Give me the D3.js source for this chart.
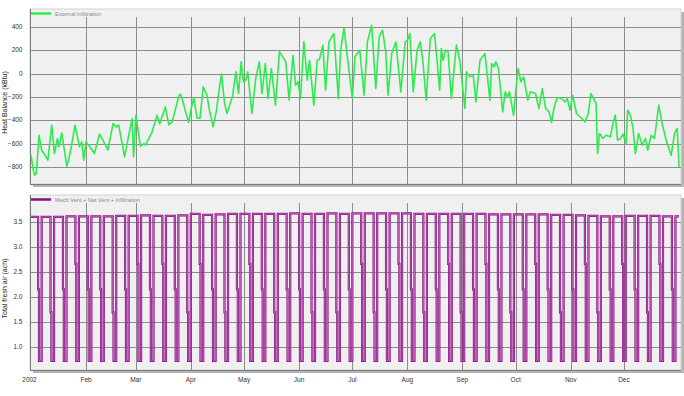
<!DOCTYPE html>
<html>
<head>
<meta charset="utf-8">
<style>
  body { margin: 0; background: #fff; }
  text { font-family: Arial, "Liberation Sans", sans-serif; }
</style>
</head>
<body>
<svg id="chart" width="684" height="396"></svg>
<script src="https://d3js.org/d3.v7.min.js"></script>
<script>

// ---- data ----
// top panel: External infiltration heat balance, (day of year, kBtu)
const infDays = [0,1.2,2,3,4.5,6,8,9.5,11.7,13.2,14.9,15.8,17.3,20.2,22,24.8,27.3,28.6,29.7,31,33.8,35.7,38.6,40.5,43.3,46.2,48,49.4,52.7,56.9,57.8,59.1,61.6,63.6,64.6,68.2,71,72.5,73.8,75.7,77.6,79.5,81,83.3,84.2,85.6,87.3,88.8,90.2,91.7,93.5,95.2,97,99.1,100.5,102.6,104.5,105.6,107.3,109,110.3,111.9,113.5,115.4,116.9,118.4,119.7,121,122.1,124.4,126.7,128.6,130.1,132,133.5,135.4,137.7,139.9,141.8,143.5,145.4,147.6,149,150.5,151.8,153.7,155.6,156.9,159.3,161.2,162.5,164.4,165.9,167.8,170.6,173.1,174.4,176.3,179.1,181,182.5,185.2,187.6,189.5,191.9,194.2,196.1,198,199.8,201.1,203.2,205.5,208.3,210.8,212.1,213.4,215.3,217.5,219.2,220.7,222.6,224.9,227.3,230.2,231.1,232.1,233.6,234.9,236.8,239.6,241.5,244.4,245.3,247.2,249.1,250.6,252.9,255.7,258.5,259.5,260.8,261.8,263.3,265.7,267.1,268.4,269.5,271.8,274.3,276,277.5,279.8,281.3,284.2,286.1,288,289.9,291.8,293.2,294.5,296.4,298.9,300.8,302.1,303.6,305.1,307.3,309.2,312.1,313.9,315.4,316.8,318.3,319.1,320.2,322.1,324,326.3,327.8,329.1,330.4,332,333.5,335.2,336.1,337.6,339.1,340.4,342.3,344.2,346.1,347.4,349.3,351.2,353.6,355.5,358,360.6,362.5,364,365];
const infValues = [-700,-820,-870,-860,-529,-657,-700,-743,-443,-686,-557,-628,-509,-795,-686,-443,-628,-586,-743,-586,-643,-686,-520,-571,-657,-429,-457,-443,-715,-386,-715,-357,-623,-600,-614,-500,-357,-433,-371,-286,-440,-414,-329,-190,-176,-240,-343,-420,-300,-205,-380,-385,-114,-186,-314,-457,-314,-180,-3,-250,-343,-271,-200,14,-171,100,-71,-57,14,-343,-29,100,-171,86,-214,43,-271,186,143,100,-229,157,-100,-71,-214,271,-57,114,-271,114,121,243,-143,271,343,-214,200,386,29,-214,143,200,-186,271,414,-129,314,371,186,-186,171,271,-157,271,286,343,-157,200,271,114,-229,300,343,-143,214,114,200,186,-214,243,114,-300,14,-29,-14,-243,114,171,-229,86,57,100,43,-329,-157,-200,-157,-357,43,-71,-29,-229,-157,-171,-300,-129,-300,-329,-420,-300,-206,-214,-243,-214,-314,-186,-343,-371,-414,-343,-171,-214,-257,-686,-514,-557,-529,-543,-428,-357,-571,-557,-520,-600,-314,-357,-471,-686,-514,-614,-557,-657,-529,-557,-271,-428,-586,-700,-514,-471,-800];

// bottom panel: total fresh air (ach), weekday level per block (Jan 1-4, then after each weekend)
const airHigh = [3.60,3.60,3.60,3.61,3.61,3.61,3.61,3.62,3.62,3.63,3.62,3.62,3.63,3.66,3.64,3.65,3.66,3.66,3.66,3.66,3.66,3.67,3.66,3.66,3.67,3.66,3.67,
                 3.67,3.67,3.67,3.67,3.66,3.66,3.66,3.66,3.66,3.66,3.65,3.65,3.65,3.65,3.65,3.64,3.64,3.63,3.62,3.61,3.61,3.62,3.62,3.62,3.61,3.61];
// step level on each weekend's way down
const airNotch = [2.15,1.69,2.15,2.66,2.15,2.15,1.69,2.15,2.66,2.15,2.66,2.15,1.69,2.66,2.15,1.69,2.15,2.66,2.15,1.69,2.15,2.15,1.69,2.15,1.69,2.15,
                  2.66,1.69,2.15,2.66,2.15,1.69,2.15,2.66,1.69,2.15,2.66,2.15,1.69,2.15,2.66,2.15,1.69,2.15,2.66,1.69,2.15,2.66,2.15,1.69,2.66,2.15];
const airLow = 0.72;
const firstSaturday = 4;   // 5 Jan 2002

const heatTicks = [-800,-600,-400,-200,0,200,400];
const airTicks = [1.0,1.5,2.0,2.5,3.0,3.5];

// ---- layout ----
const svg = d3.select("#chart");
const left = 30, right = 681;
const DAY = 864e5, t0 = Date.UTC(2002,0,1);
const toDate = d => new Date(t0 + d*DAY);

const x = d3.scaleUtc()
    .domain([toDate(0), toDate(365)])
    .range([31, 679]);
const months = d3.utcMonth.range(toDate(0), toDate(365));

const panels = [
    {top: 9, bottom: 184, domain: [-947, 553], ticks: heatTicks, fmt: d3.format("d"),
     title: "Heat Balance (kBtu)", legend: "External infiltration", color: "#2fea4f"},
    {top: 195, bottom: 370, domain: [0.537, 4.037], ticks: airTicks, fmt: d3.format(".1f"),
     title: "Total fresh air (ach)", legend: "Mech Vent + Nat Vent + Infiltration", color: "#85107f"}
];

panels.forEach(p => {
    p.y = d3.scaleLinear().domain(p.domain).range([p.bottom, p.top]);
    let g = svg.append("g");
    // shadow + frame
    g.append("rect").attr("x", left + 3).attr("y", p.top + 3)
        .attr("width", right - left).attr("height", p.bottom - p.top)
        .attr("fill", "#b4b4b4");
    g.append("rect").attr("x", left).attr("y", p.top)
        .attr("width", right - left).attr("height", p.bottom - p.top)
        .attr("fill", "#f0f0f0").attr("stroke", "#d2d2d2");
    // grid
    g.selectAll(".hg").data(p.ticks).enter().append("line")
        .attr("x1", left).attr("x2", right)
        .attr("y1", d => Math.round(p.y(d)) + 0.5).attr("y2", d => Math.round(p.y(d)) + 0.5)
        .attr("stroke", "#8c8c8c").attr("stroke-width", 1);
    g.selectAll(".vg").data(months.slice(1)).enter().append("line")
        .attr("x1", d => Math.round(x(d)) + 0.5).attr("x2", d => Math.round(x(d)) + 0.5)
        .attr("y1", p.top + 8).attr("y2", p.bottom)
        .attr("stroke", "#8c8c8c").attr("stroke-width", 1);
    // axis lines
    g.append("line").attr("x1", left + 0.5).attr("x2", left + 0.5)
        .attr("y1", p.top).attr("y2", p.bottom).attr("stroke", "#7a7a7a");
    g.append("line").attr("x1", left).attr("x2", right)
        .attr("y1", p.bottom + 0.5).attr("y2", p.bottom + 0.5).attr("stroke", "#7a7a7a");
    // tick labels
    g.selectAll(".yl").data(p.ticks).enter().append("text")
        .attr("x", 22.5).attr("y", d => p.y(d)).attr("dy", "0.35em")
        .attr("text-anchor", "end").attr("font-size", 6.5).attr("fill", "#333")
        .text(p.fmt);
    // title
    g.append("text")
        .attr("transform", `translate(7,${(p.top + p.bottom) / 2 + 6}) rotate(-90)`)
        .attr("text-anchor", "middle").attr("font-size", 7).attr("fill", "#222")
        .text(p.title);
    // legend
    g.append("line").attr("x1", 31).attr("x2", 51)
        .attr("y1", p.top + 4.5).attr("y2", p.top + 4.5)
        .attr("stroke", p.color).attr("stroke-width", 2.5);
    g.append("text").attr("x", 55).attr("y", p.top + 6.5)
        .attr("font-size", 5.6).attr("fill", "#8a8a8a").text(p.legend);
});

// top line
const infData = infDays.map((d, i) => [d, infValues[i]]);
const topY = panels[0].y;
svg.append("path")
    .datum(infData)
    .attr("fill", "none")
    .attr("stroke", "#2fea4f")
    .attr("stroke-width", 1.6)
    .attr("stroke-linejoin", "round")
    .attr("d", d3.line().x(d => x(toDate(d[0]))).y(d => topY(d[1])));

// bottom line: weekday level, weekend dip with a step on the way down
let air = [[0, airHigh[0]]];
airNotch.forEach((n, k) => {
    const sat = firstSaturday + 7 * k;
    air.push([sat, airHigh[k]], [sat, n], [sat + 0.5, n], [sat + 0.5, airLow],
             [sat + 2, airLow], [sat + 2, airHigh[k + 1]]);
});
air.push([365, airHigh[airHigh.length - 1]]);

const botY = panels[1].y;
const airLine = d3.line().x(d => x(toDate(d[0]))).y(d => botY(d[1]));
svg.append("path").datum(air).attr("fill", "none")
    .attr("stroke", "#85107f").attr("stroke-width", 2.2).attr("d", airLine);
svg.append("path").datum(air).attr("fill", "none")
    .attr("stroke", "#e690e2").attr("stroke-width", 0.6).attr("d", airLine);

// x axis labels under the bottom panel
svg.selectAll(".xl").data(months).enter().append("text")
    .attr("x", d => x(d) - (d.getUTCMonth() === 0 ? 1.5 : 0))
    .attr("y", 382)
    .attr("text-anchor", "middle").attr("font-size", 6.5).attr("fill", "#333")
    .text(d => d.getUTCMonth() === 0 ? "2002" : d3.utcFormat("%b")(d));

</script>
</body>
</html>
